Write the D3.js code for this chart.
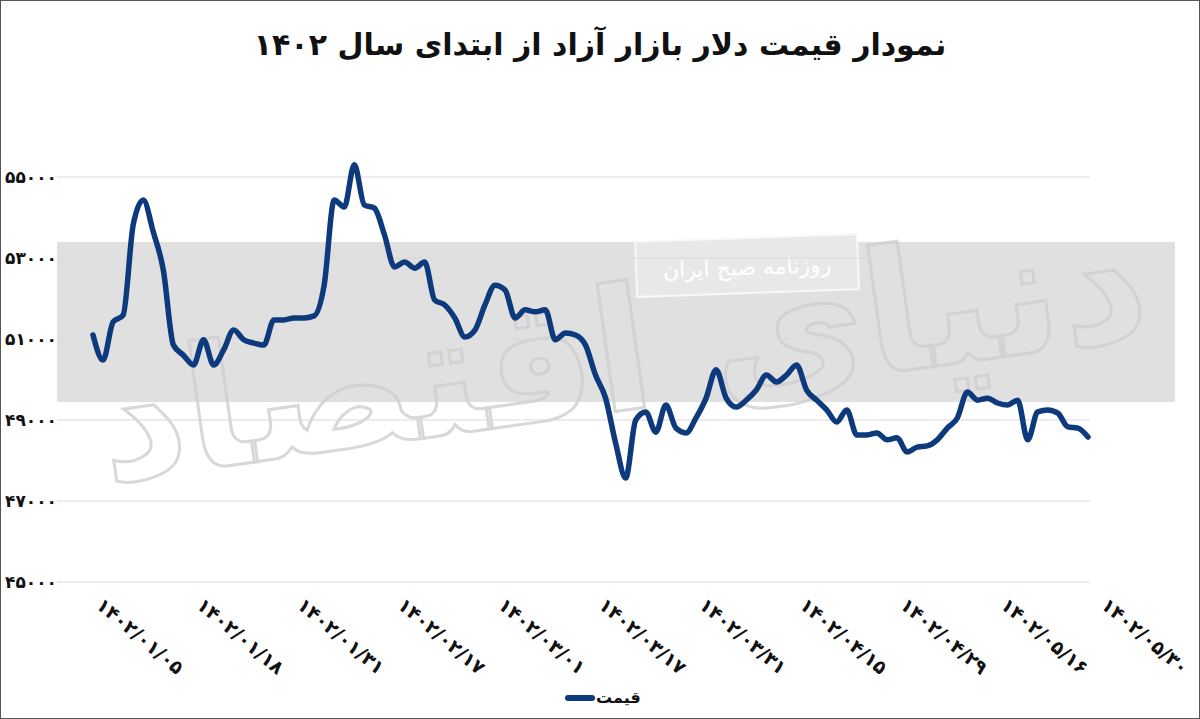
<!DOCTYPE html>
<html><head><meta charset="utf-8">
<script src="https://cdn.jsdelivr.net/npm/d3@7"></script>
<style>body{margin:0;background:#fff}svg{display:block}</style>
</head><body>
<svg id="c" width="1200" height="719"></svg>
<script>
const title = "نمودار قیمت دلار بازار آزاد از ابتدای سال ۱۴۰۲";
const seriesName = "قیمت";
const tickLabels = ["۱۴۰۲/۰۱/۰۵","۱۴۰۲/۰۱/۱۸","۱۴۰۲/۰۱/۳۱","۱۴۰۲/۰۲/۱۷","۱۴۰۲/۰۳/۰۱","۱۴۰۲/۰۳/۱۷","۱۴۰۲/۰۳/۳۱","۱۴۰۲/۰۴/۱۵","۱۴۰۲/۰۴/۲۹","۱۴۰۲/۰۵/۱۶","۱۴۰۲/۰۵/۳۰"];
const yTicks = [45000,47000,49000,51000,53000,55000];
const prices = [51100,50480,51420,51590,53820,54430,53640,52700,50850,50600,
50360,50980,50360,50730,51220,50980,50900,50850,51470,51470,
51520,51520,51570,52330,54430,54260,55300,54310,54230,53570,
52780,52900,52750,52900,51960,51840,51520,51050,51220,51840,
52330,52210,51520,51720,51670,51720,50980,51150,51100,50850,
50110,49540,48430,47570,49000,49200,48700,49370,48800,48680,
49050,49540,50240,49540,49320,49490,49740,50110,49940,50110,
50360,49740,49490,49250,48950,49250,48630,48630,48680,48510,
48560,48210,48330,48360,48510,48800,49050,49690,49490,49540,
49420,49370,49490,48510,49200,49250,49170,48830,48800,48580];

const fa = n => String(n).replace(/\d/g, d => "۰۱۲۳۴۵۶۷۸۹"[d]);
const svg = d3.select("#c");
const F = "'DejaVu Sans', sans-serif";
svg.append("rect").attr("x",0.5).attr("y",0.5).attr("width",1199).attr("height",718).attr("fill","#fff").attr("stroke","#555");

const x = d3.scaleLinear().domain([0, 99]).range([93, 1088]);
const y = d3.scaleLinear().domain([45000, 57000]).range([582, 96]);

// watermark band
svg.append("rect").attr("x",57).attr("y",242).attr("width",1118).attr("height",160).attr("fill","#e0e0e0");
svg.append("rect").attr("x",636).attr("y",238).attr("width",222).attr("height",55).attr("fill","#e8e8e8").attr("stroke","#f8f8f8").attr("stroke-width",2).attr("transform","rotate(-2 747 265)");
svg.append("text").attr("x",747).attr("y",275).attr("text-anchor","middle").attr("font-family",F).attr("font-size",22).attr("fill","#fff").attr("transform","rotate(-2 747 265)").text("روزنامه صبح ایران");
svg.append("text").attr("x",620).attr("y",410).attr("text-anchor","middle").attr("font-family",F).attr("font-size",170).attr("font-weight","bold").attr("fill","none").attr("stroke","#cfcfcf").attr("stroke-width",3).attr("opacity",0.8).attr("transform","rotate(-8 620 340)").text("دنیای اقتصاد");

// grid
svg.append("g").selectAll("line").data(yTicks).join("line")
  .attr("x1",57).attr("x2",1090).attr("y1",d=>y(d)).attr("y2",d=>y(d)).attr("stroke","#d9d9d9").attr("stroke-width",1);
svg.append("g").selectAll("text").data(yTicks).join("text")
  .attr("x",57).attr("y",d=>y(d)+6).attr("text-anchor","end").attr("font-family",F).attr("font-weight","bold").attr("font-size",17).attr("fill","#111").text(d=>fa(d));

// x labels
svg.append("g").selectAll("text").data(tickLabels).join("text")
  .attr("transform",(d,i)=>`translate(${x(i*10)+2},${607}) rotate(40)`)
  .attr("font-family",F).attr("font-weight","bold").attr("font-size",19).attr("fill","#111").attr("direction","ltr").text(d=>d);

// line
svg.append("path").datum(prices)
  .attr("d", d3.line().x((d,i)=>x(i)).y(d=>y(d)).curve(d3.curveMonotoneX))
  .attr("fill","none").attr("stroke","#0c3a7c").attr("stroke-width",5.5).attr("stroke-linejoin","round").attr("stroke-linecap","round");

// title
svg.append("text").attr("x",600).attr("y",55).attr("text-anchor","middle").attr("font-family",F).attr("font-weight","bold").attr("font-size",30).attr("fill","#111").text(title);

// legend
svg.append("line").attr("x1",568).attr("x2",592).attr("y1",698).attr("y2",698).attr("stroke","#0c3a7c").attr("stroke-width",6).attr("stroke-linecap","round");
svg.append("text").attr("x",596).attr("y",703).attr("font-family",F).attr("font-weight","bold").attr("font-size",16).attr("fill","#111").attr("direction","ltr").text(seriesName);
</script>
</body></html>
